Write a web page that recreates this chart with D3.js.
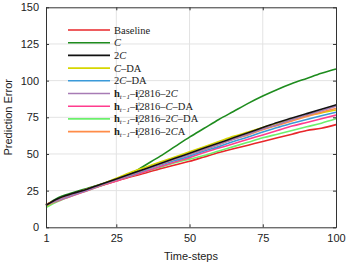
<!DOCTYPE html>
<html><head><meta charset="utf-8">
<script src="https://cdn.jsdelivr.net/npm/d3@7"></script>
<style>body{margin:0;background:#fff}svg{display:block}</style>
</head><body><svg id="c" width="347" height="263"></svg>
<script>
const timeSteps = [1,5,10,15,20,25,30,35,40,45,50,55,60,65,70,75,80,85,90,95,100];
const xTicks = [1,25,50,75,100];
const yTicks = [0,25,50,75,100,125,150];
const seriesNames = ["Baseline","C","2C","C-DA","2C-DA","h-2C","h-C-DA","h-2C-DA","h-2CA"];
const baseline = [15.5,19,22.5,25.5,28.5,31.5,34.5,37,40,42.5,45,48,51,53.5,56,58.5,61,63.5,66,67.5,70];
const cS = [15,20,23.5,26.5,29.5,33,36.5,42.5,48.5,55,61.5,67.5,73.5,79,84.5,89.5,94,98,101.5,105,108];
const c2 = [15,19.5,23,26,29.5,33,36.5,40,43.5,47,50.5,54,57.5,61,64.5,68,71.5,74.5,77.5,80.5,83.5];
const cDA = [14.5,18.5,22.5,26,29.5,33.5,37.5,41,44.5,48,51.5,55,58.5,62,65,68,71,73.5,76,78,80];
const c2DA = [15,18.5,22,25.5,29,32.5,35.5,39,42.5,45.5,48.5,52,55,58.5,61.5,65,68,71,73.5,76,78.5];
const h2C = [15,18.5,22,25.5,29,32.5,36,39.5,43,46.5,49.5,53,56.5,60,63.5,67,70,73.5,76.5,79.5,82.5];
const hCDA = [15,18,21.5,25,28.5,31.5,35,38,41.5,44.5,47.5,51,54,57,60,63,66,69,71.5,74,76.5];
const h2CDA = [13.5,17.5,21.5,25,28.5,32,35,38,41,44,46.5,49,52,55,58,61,63.5,66,68.5,71,74];
const h2CA = [15.5,19,22.5,26,29,32.5,36,39.5,43,46.5,50,53,56.5,60,63,66.5,69.5,72.5,75.5,78.5,81];
const colors = ["#e8262a","#1e8c1e","#111111","#d6d600","#3a9ad9","#a77bb5","#ff3c8e","#6cf06c","#ff8c48"];

const series = [baseline,cS,c2,cDA,c2DA,h2C,hCDA,h2CDA,h2CA];
const drawOrder = [1,0,7,6,4,3,8,5,2];

const svg = d3.select("#c");
const x = d3.scaleLinear().domain([1,100]).range([46,336]);
const y = d3.scaleLinear().domain([0,150]).range([227.3,7.3]);

// grid
svg.append("g").selectAll("line").data(xTicks.slice(1,-1)).join("line")
  .attr("x1",d=>x(d)).attr("x2",d=>x(d)).attr("y1",y(0)).attr("y2",y(150))
  .attr("stroke","#e3e3e3").attr("stroke-width",1);
svg.append("g").selectAll("line").data(yTicks.slice(1,-1)).join("line")
  .attr("y1",d=>y(d)).attr("y2",d=>y(d)).attr("x1",x(1)).attr("x2",x(100))
  .attr("stroke","#e3e3e3").attr("stroke-width",1);

// lines
const line = d3.line().x((d,i)=>x(timeSteps[i])).y(d=>y(d)).curve(d3.curveMonotoneX);
drawOrder.forEach(k=>{
  svg.append("path").datum(series[k]).attr("d",line).attr("fill","none")
    .attr("stroke",colors[k]).attr("stroke-width",1.6).attr("stroke-linejoin","round");
});

// axes
const tickFont = "Liberation Sans, Arial, sans-serif";
function styleAxis(g, labels){
  g.select(".domain").attr("stroke","#333").attr("stroke-width",1);
  g.selectAll(".tick line").attr("stroke","#333");
  g.selectAll(".tick text").attr("font-family",tickFont).attr("font-size",11).attr("fill","#222");
  if(!labels) g.selectAll(".tick text").remove();
}
const bx = svg.append("g").attr("transform",`translate(0,${y(0)})`)
  .call(d3.axisBottom(x).tickValues(xTicks).tickSizeInner(-3).tickSizeOuter(0).tickPadding(7));
styleAxis(bx,true);
const tx = svg.append("g").attr("transform",`translate(0,${y(150)})`)
  .call(d3.axisTop(x).tickValues(xTicks).tickSizeInner(-3).tickSizeOuter(0));
styleAxis(tx,false);
const ly = svg.append("g").attr("transform",`translate(${x(1)},0)`)
  .call(d3.axisLeft(y).tickValues(yTicks).tickSizeInner(-3).tickSizeOuter(0).tickPadding(7));
styleAxis(ly,true);
const ry = svg.append("g").attr("transform",`translate(${x(100)},0)`)
  .call(d3.axisRight(y).tickValues(yTicks).tickSizeInner(-3).tickSizeOuter(0));
styleAxis(ry,false);

// axis labels
svg.append("text").attr("x",(x(1)+x(100))/2).attr("y",260).attr("text-anchor","middle")
  .attr("font-family",tickFont).attr("font-size",11).attr("fill","#222").text("Time-steps");
svg.append("text").attr("transform",`translate(12,${(y(0)+y(150))/2}) rotate(-90)`)
  .attr("text-anchor","middle").attr("font-family",tickFont).attr("font-size",11).attr("fill","#222").text("Prediction Error");

// legend
const serif = "Liberation Serif, DejaVu Serif, serif";
const leg = svg.append("g");
function cal(t){ t.append("tspan").attr("font-style","italic").text("C"); }
function plain(t,s){ t.append("tspan").text(s); }
function hprefix(t){
  t.append("tspan").attr("font-weight","bold").text("h");
  t.append("tspan").attr("font-size",7).attr("font-style","italic").attr("dy",2).text("t\u22121");
  t.append("tspan").attr("dy",-2).text("\u2013");
  t.append("tspan").attr("font-weight","bold").text("i");
  t.append("tspan").attr("font-size",6).attr("dy",-3.5).text("i");
  t.append("tspan").attr("font-size",6).attr("font-style","italic").attr("dx",-2.2).attr("dy",6).text("t");
  t.append("tspan").attr("dy",-2.5).text("2816\u2013");
}
const legendBuilders = [
  t=>plain(t,"Baseline"),
  t=>cal(t),
  t=>{plain(t,"2"); cal(t);},
  t=>{cal(t); plain(t,"\u2013DA");},
  t=>{plain(t,"2"); cal(t); plain(t,"\u2013DA");},
  t=>{hprefix(t); plain(t,"2"); cal(t);},
  t=>{hprefix(t); cal(t); plain(t,"\u2013DA");},
  t=>{hprefix(t); plain(t,"2"); cal(t); plain(t,"\u2013DA");},
  t=>{hprefix(t); plain(t,"2"); cal(t); plain(t,"A");}
];
seriesNames.forEach((n,i)=>{
  const yy = 30 + i*12.7;
  leg.append("line").attr("x1",68).attr("x2",110).attr("y1",yy).attr("y2",yy)
    .attr("stroke",colors[i]).attr("stroke-width",1.6);
  const t = leg.append("text").attr("x",114).attr("y",yy+3.5)
    .attr("font-family",serif).attr("font-size",10.5).attr("fill","#222");
  legendBuilders[i](t);
});
</script></body></html>
